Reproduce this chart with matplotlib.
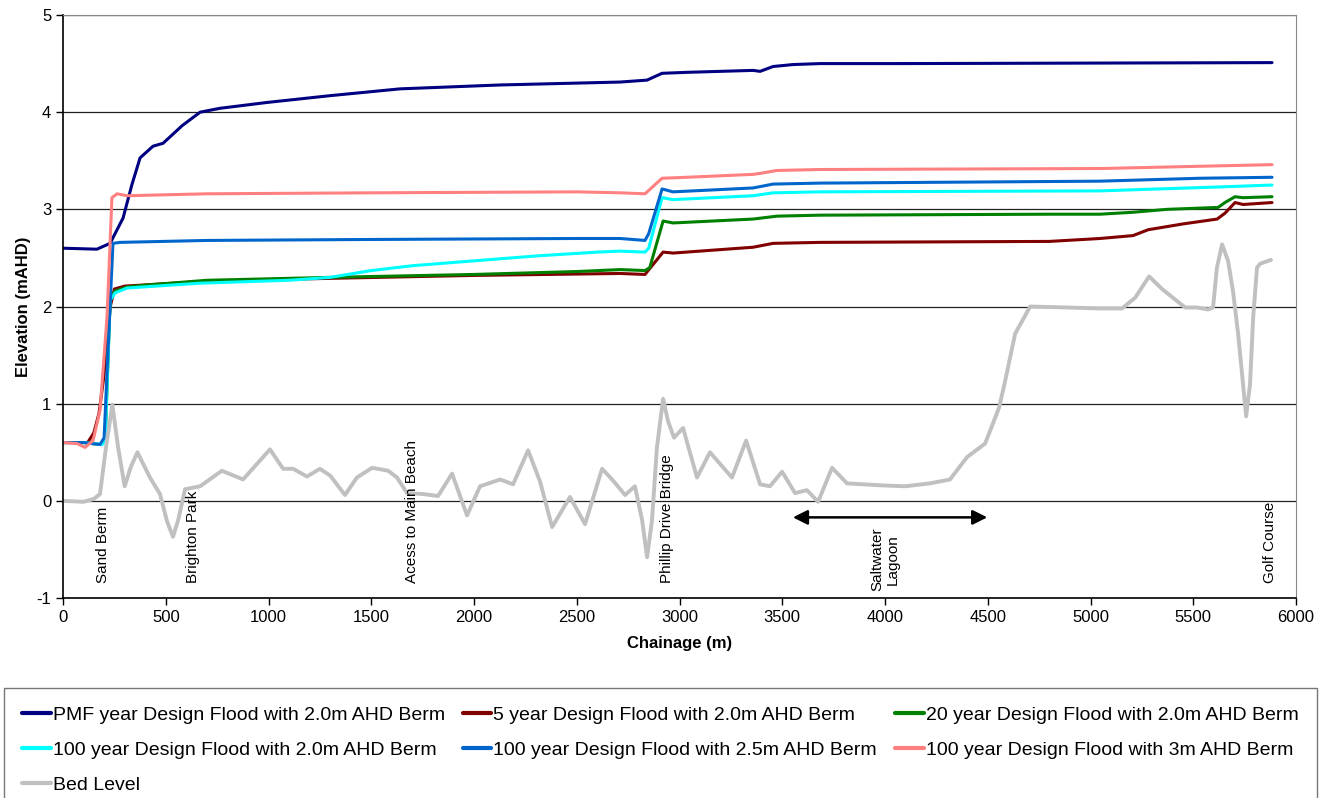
import matplotlib.pyplot as plt

plt.rcParams['font.family'] = ['Liberation Sans', 'DejaVu Sans']
plt.rcParams['axes.unicode_minus'] = False

# read-off data (chainage m, elevation mAHD)
pmf_x = [0, 165, 229, 292, 336, 375, 438, 487, 579, 667, 764, 993, 1300, 1640, 2127,
         2711, 2842, 2915, 3036, 3358, 3392, 3455, 3552, 3684, 4073, 5883]
pmf_y = [2.6, 2.59, 2.65, 2.91, 3.26, 3.53, 3.65, 3.68, 3.86, 4.0, 4.04, 4.1, 4.17, 4.24, 4.28,
         4.31, 4.33, 4.40, 4.41, 4.43, 4.42, 4.47, 4.49, 4.50, 4.50, 4.51]

y5_x = [0, 60, 120, 150, 175, 200, 230, 250, 300, 700, 1300, 2000, 2711, 2832, 2920, 2968,
        3358, 3455, 3684, 4800, 5046, 5207, 5280, 5450, 5616, 5654, 5703, 5742, 5883]
y5_y = [0.6, 0.6, 0.6, 0.7, 0.9, 1.3, 2.0, 2.18, 2.21, 2.26, 2.29, 2.32, 2.34, 2.33, 2.56, 2.55,
        2.61, 2.65, 2.66, 2.67, 2.7, 2.73, 2.79, 2.85, 2.9, 2.96, 3.07, 3.05, 3.07]

y20_x = [0, 100, 180, 205, 229, 253, 311, 400, 700, 1300, 2000, 2500, 2711, 2832, 2855, 2920,
         2968, 3358, 3474, 3684, 4800, 5046, 5207, 5372, 5621, 5654, 5703, 5742, 5883]
y20_y = [0.6, 0.6, 0.58, 0.62, 2.06, 2.16, 2.2, 2.22, 2.27, 2.3, 2.33, 2.36, 2.38, 2.37, 2.40, 2.88,
         2.86, 2.9, 2.93, 2.94, 2.95, 2.95, 2.97, 3.0, 3.02, 3.07, 3.13, 3.12, 3.13]

y100_x = [0, 100, 190, 205, 229, 253, 311, 667, 1100, 1300, 1500, 1700, 2000, 2300, 2600,
          2711, 2832, 2850, 2915, 2968, 3358, 3455, 3684, 5046, 5620, 5883]
y100_y = [0.6, 0.6, 0.58, 0.62, 2.06, 2.14, 2.19, 2.24, 2.27, 2.3, 2.37, 2.42, 2.47, 2.52, 2.56,
          2.57, 2.56, 2.6, 3.12, 3.1, 3.14, 3.17, 3.18, 3.19, 3.23, 3.25]

b25_x = [0, 100, 180, 200, 219, 243, 277, 700, 1500, 2500, 2711, 2832, 2850, 2915, 2968,
         3358, 3455, 3684, 5046, 5533, 5883]
b25_y = [0.6, 0.6, 0.58, 0.65, 1.55, 2.65, 2.66, 2.68, 2.69, 2.70, 2.70, 2.68, 2.75, 3.21, 3.18,
         3.22, 3.26, 3.27, 3.29, 3.32, 3.33]

b3_x = [0, 68, 107, 146, 180, 214, 238, 263, 311, 700, 1500, 2500, 2711, 2832, 2915, 3036,
        3358, 3392, 3474, 3684, 5046, 5883]
b3_y = [0.6, 0.59, 0.55, 0.62, 0.93, 1.89, 3.12, 3.16, 3.14, 3.16, 3.17, 3.18, 3.17, 3.16, 3.32, 3.33,
        3.36, 3.37, 3.4, 3.41, 3.42, 3.46]

bed_x = [0, 100, 150, 180, 209, 240, 268, 300, 330, 362, 423, 472, 506, 535, 560, 594, 667,
         773, 876, 1007, 1071, 1120, 1187, 1250, 1300, 1372, 1430, 1504, 1582, 1625, 1674,
         1752, 1825, 1893, 1966, 2029, 2127, 2190, 2263, 2321, 2380, 2467, 2540, 2623, 2676,
         2735, 2783, 2818, 2842, 2866, 2890, 2920, 2944, 2973, 3017, 3085, 3148, 3255, 3324,
         3392, 3440, 3499, 3562, 3620, 3674, 3742, 3815, 3976, 4097, 4219, 4316, 4399, 4487,
         4555, 4584, 4633, 4706, 4886, 5046, 5153, 5217, 5285, 5348, 5401, 5460, 5518, 5572,
         5596, 5615, 5640, 5669, 5693, 5718, 5742, 5757, 5776, 5791, 5810, 5825, 5878]
bed_y = [0.0, -0.01, 0.02, 0.07, 0.55, 0.99, 0.55, 0.15, 0.35, 0.5, 0.24, 0.07, -0.21, -0.37, -0.2,
         0.12, 0.15, 0.31, 0.22, 0.53, 0.33, 0.33, 0.25, 0.33, 0.26, 0.06, 0.24, 0.34, 0.31,
         0.24, 0.08, 0.07, 0.05, 0.28, -0.15, 0.15, 0.22, 0.17, 0.52, 0.2, -0.27, 0.04, -0.24,
         0.33, 0.21, 0.06, 0.15, -0.2, -0.58, -0.2, 0.55, 1.05, 0.82, 0.65, 0.75, 0.24, 0.5,
         0.24, 0.62, 0.17, 0.15, 0.3, 0.08, 0.11, -0.01, 0.34, 0.18, 0.16, 0.15, 0.18, 0.22,
         0.45, 0.59, 0.96, 1.23, 1.72, 2.0, 1.99, 1.98, 1.98, 2.09, 2.31, 2.18, 2.09, 1.99,
         1.99, 1.97, 1.99, 2.4, 2.64, 2.47, 2.16, 1.72, 1.2, 0.87, 1.2, 1.88, 2.4, 2.44, 2.48]

labels = ['PMF year Design Flood with 2.0m AHD Berm',
          '5 year Design Flood with 2.0m AHD Berm',
          '20 year Design Flood with 2.0m AHD Berm',
          '100 year Design Flood with 2.0m AHD Berm',
          '100 year Design Flood with 2.5m AHD Berm',
          '100 year Design Flood with 3m AHD Berm',
          'Bed Level']
colors = ['#000080', '#800000', '#008000', '#00FFFF', '#0066CC', '#FF8080', '#C0C0C0']

sites = ['Sand Berm', 'Brighton Park', 'Acess to Main Beach', 'Phillip Drive Bridge', 'Golf Course']
site_x = [195, 633, 1698, 2939, 5873]

fig = plt.figure(figsize=(13.24, 7.98), dpi=100)
ax = fig.add_axes([0.0476, 0.2506, 0.9313, 0.7306])

series = [(pmf_x, pmf_y), (y5_x, y5_y), (y20_x, y20_y), (y100_x, y100_y),
          (b25_x, b25_y), (b3_x, b3_y), (bed_x, bed_y)]
handles = []
for (xs, ys), lab, c in zip(series, labels, colors):
    lw = 2.8 if lab == 'Bed Level' else 2.2
    h, = ax.plot(xs, ys, color=c, lw=lw, label=lab, solid_joinstyle='round', solid_capstyle='round')
    handles.append(h)

ax.set_xlim(0, 6000)
ax.set_ylim(-1, 5)
ax.set_xticks(range(0, 6001, 500))
ax.set_yticks(range(-1, 6))
ax.yaxis.grid(True, color='#222222', lw=0.9)
ax.set_axisbelow(True)
ax.tick_params(labelsize=12, direction='out', length=5, width=1)
for s in ['top', 'right']:
    ax.spines[s].set_color('#888888')
ax.spines['left'].set_linewidth(1.2)
ax.spines['bottom'].set_linewidth(1.2)

ax.set_xlabel('Chainage (m)', fontsize=12, fontweight='bold', labelpad=8)
ax.set_ylabel('Elevation (mAHD)', fontsize=12, fontweight='bold', labelpad=4)

for name, x in zip(sites, site_x):
    ax.text(x, -0.85, name, rotation=90, ha='center', va='bottom', fontsize=11)
ax.text(4000, -0.6, 'Saltwater\nLagoon', rotation=90, ha='center', va='center',
        fontsize=11, multialignment='center')
ax.annotate('', xy=(3538, -0.17), xytext=(4511, -0.17),
            arrowprops=dict(arrowstyle='<|-|>', color='black', lw=1.8, mutation_scale=22))

# legend filled row by row like the original
order = [0, 3, 6, 1, 4, 2, 5]
leg = fig.legend([handles[i] for i in order], [labels[i] for i in order],
                 loc='upper left', bbox_to_anchor=(0.003, 0.138), borderaxespad=0,
                 ncol=3, fontsize=14, frameon=True, fancybox=False,
                 edgecolor='#555555', handlelength=1.45, handletextpad=0.1,
                 labelspacing=0.9, borderpad=0.95, columnspacing=0.95)
leg.get_frame().set_linewidth(1.0)
for line in leg.get_lines():
    line.set_linewidth(3)

fig.savefig('out.png', dpi=100)
